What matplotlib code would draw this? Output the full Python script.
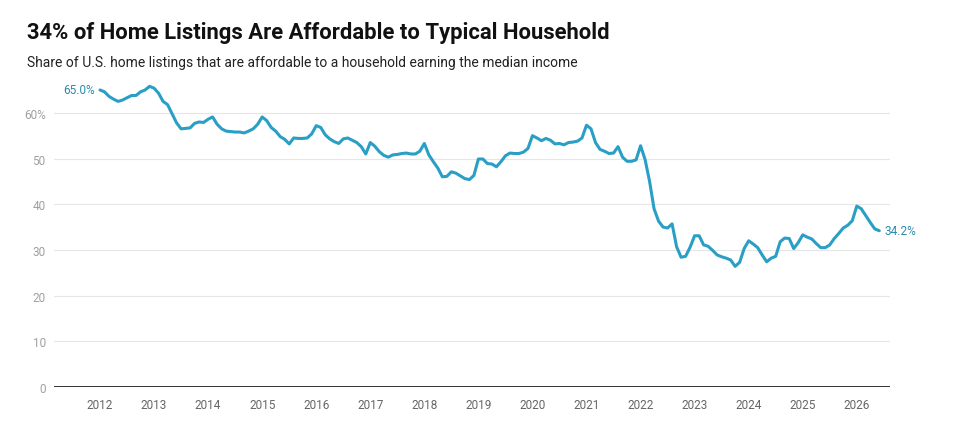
import numpy as np
import matplotlib.pyplot as plt

plt.rcParams['font.family'] = ['Roboto', 'DejaVu Sans']

# monthly share of listings affordable at median income (%), Jan 2012 onward
y2012 = [65.0, 64.6, 63.6, 63.0, 62.5, 62.8, 63.3, 63.8, 63.8, 64.6, 65.0, 65.8]
y2013 = [65.4, 64.3, 62.5, 61.8, 59.8, 57.8, 56.5, 56.6, 56.7, 57.7, 58.0, 57.9]
y2014 = [58.6, 59.1, 57.5, 56.5, 56.0, 55.9, 55.8, 55.8, 55.6, 56.0, 56.5, 57.5]
y2015 = [59.1, 58.3, 56.8, 56.0, 54.8, 54.2, 53.2, 54.5, 54.4, 54.4, 54.5, 55.4]
y2016 = [57.2, 56.8, 55.2, 54.3, 53.7, 53.3, 54.3, 54.5, 54.0, 53.5, 52.6, 51.0]
y2017 = [53.5, 52.7, 51.5, 50.7, 50.3, 50.8, 50.9, 51.1, 51.2, 51.0, 51.0, 51.6]
y2018 = [53.3, 50.8, 49.3, 47.9, 46.0, 46.1, 47.1, 46.8, 46.2, 45.6, 45.4, 46.3]
y2019 = [49.9, 49.9, 48.9, 48.8, 48.2, 49.3, 50.6, 51.2, 51.1, 51.1, 51.4, 52.2]
y2020 = [55.0, 54.5, 53.9, 54.4, 54.0, 53.2, 53.3, 53.0, 53.5, 53.6, 53.8, 54.5]
y2021 = [57.3, 56.5, 53.5, 52.0, 51.6, 51.1, 51.2, 52.6, 50.3, 49.4, 49.4, 49.7]
y2022 = [52.8, 49.8, 45.0, 39.0, 36.3, 35.0, 34.8, 35.7, 30.7, 28.4, 28.6, 30.6]
y2023 = [33.1, 33.1, 31.1, 30.8, 29.9, 28.9, 28.5, 28.2, 27.8, 26.4, 27.3, 30.3]
y2024 = [32.0, 31.3, 30.5, 28.9, 27.4, 28.2, 28.6, 31.8, 32.6, 32.5, 30.3, 31.6]
y2025 = [33.3, 32.8, 32.4, 31.4, 30.5, 30.5, 31.1, 32.5, 33.6, 34.8, 35.4, 36.4]
y2026 = [39.6, 39.0, 37.5, 36.0, 34.6, 34.2]

years = list(range(2012, 2027))
yticks = [0, 10, 20, 30, 40, 50, 60]
ytick_labels = ['0', '10', '20', '30', '40', '50', '60%']

share = np.array(y2012 + y2013 + y2014 + y2015 + y2016 + y2017 + y2018 + y2019
                 + y2020 + y2021 + y2022 + y2023 + y2024 + y2025 + y2026)
t = 2012 + np.arange(len(share)) / 12.0

line_col = '#2a9fc6'
label_col = '#2a8bab'

fig = plt.figure(figsize=(9.61, 4.27), dpi=100)
ax = fig.add_axes([0.0562, 0.0913, 0.8700, 0.717])

ax.plot(t, share, color=line_col, lw=2.2, solid_joinstyle='round',
        solid_capstyle='round', zorder=3)

ax.set_xlim(2011.149, 2026.616)
ax.set_ylim(0, 67)
ax.set_xticks(years)
ax.set_xticklabels([str(y) for y in years], color='#666666', fontsize=8.5)
ax.set_yticks(yticks)
ax.set_yticklabels(ytick_labels, color='#a0a0a0', fontsize=8.5)
ax.tick_params(length=0)
ax.tick_params(axis='x', pad=8)
ax.tick_params(axis='y', pad=6)

for v in yticks[1:]:
    ax.axhline(v, color='#e6e6e6', lw=0.8, zorder=1)
ax.axhline(0, color='#111111', lw=1.2, zorder=2)

for s in ax.spines.values():
    s.set_visible(False)

# end labels
ax.annotate('%.1f%%' % share[0], (t[0], share[0]), xytext=(-4, 0),
            textcoords='offset points', ha='right', va='center',
            color=label_col, fontsize=8.5)
ax.annotate('%.1f%%' % share[-1], (t[-1], share[-1]), xytext=(4, 0),
            textcoords='offset points', ha='left', va='center',
            color=label_col, fontsize=8.5)

fig.text(0.028, 0.922, '34% of Home Listings Are Affordable to Typical Household',
         fontsize=15.8, fontweight='bold', color='#111111', va='center')
fig.text(0.028, 0.852, 'Share of U.S. home listings that are affordable to a household earning the median income',
         fontsize=10, color='#222222', va='center')

fig.savefig('out.png', dpi=100)
